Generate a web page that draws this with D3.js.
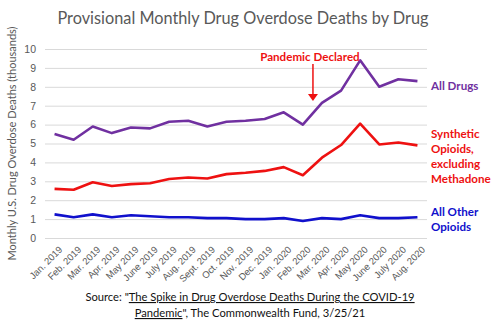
<!DOCTYPE html>
<html>
<head>
<meta charset="utf-8">
<script src="https://cdn.jsdelivr.net/npm/d3@7"></script>
<style>
  body { margin: 0; background: #fff; }
  svg { display: block; font-family: Lato, "Open Sans", sans-serif; }
</style>
</head>
<body>
<div class="container"></div>
<script>
const months = ['Jan. 2019', 'Feb. 2019', 'Mar. 2019', 'Apr. 2019', 'May 2019', 'June 2019',
    'July 2019', 'Aug. 2019', 'Sept. 2019', 'Oct. 2019', 'Nov. 2019', 'Dec. 2019',
    'Jan. 2020', 'Feb. 2020', 'Mar. 2020', 'Apr. 2020', 'May 2020', 'June 2020',
    'July 2020', 'Aug. 2020']

const allDrugs = [5.5, 5.2, 5.9, 5.55, 5.85, 5.8, 6.15, 6.2, 5.9, 6.15,
    6.2, 6.3, 6.65, 6.0, 7.15, 7.8, 9.4, 8.0, 8.4, 8.3]
const syntheticOpioids = [2.6, 2.55, 2.95, 2.75, 2.85, 2.9, 3.12, 3.2, 3.15, 3.38,
    3.45, 3.55, 3.75, 3.32, 4.25, 4.92, 6.05, 4.95, 5.05, 4.9]
const otherOpioids = [1.25, 1.1, 1.25, 1.1, 1.2, 1.15, 1.1, 1.1, 1.05, 1.05,
    1.0, 1.0, 1.05, 0.9, 1.05, 1.0, 1.2, 1.05, 1.05, 1.1]

const yTicks = [0, 1, 2, 3, 4, 5, 6, 7, 8, 9, 10]

const series = [
    { name: ['All Drugs'], values: allDrugs, color: '#7030a0', labelY: 85 },
    { name: ['Synthetic', 'Opioids,', 'excluding', 'Methadone'], values: syntheticOpioids, color: '#ee1111', labelY: 133 },
    { name: ['All Other', 'Opioids'], values: otherOpioids, color: '#1010cc', labelY: 211 },
]

const width = 500, height = 327
const margin = {top: 49, left: 45, right: 73, bottom: 89}

const svg = d3.select('.container')
    .append('svg')
    .attr('width', width)
    .attr('height', height)

const x = d3.scaleBand()
    .domain(months)
    .range([margin.left, width - margin.right])

const y = d3.scaleLinear()
    .domain([0, 10])
    .range([height - margin.bottom, margin.top])

// gridlines + y labels
svg.append('g')
    .attr('transform', `translate(${margin.left},0)`)
    .call(d3.axisLeft(y).tickValues(yTicks).tickSize(-(width - margin.left - margin.right)).tickPadding(9))
    .call(g => g.select('.domain').remove())
    .call(g => g.selectAll('line').attr('stroke', '#d9d9d9'))
    .call(g => g.selectAll('text').attr('fill', '#595959').style('font-size', '10.5px'))

// month labels, rotated
svg.append('g')
    .attr('transform', `translate(0,${height - margin.bottom})`)
    .call(d3.axisBottom(x).tickSize(0).tickPadding(0))
    .call(g => g.select('.domain').remove())
    .call(g => g.selectAll('text')
        .attr('fill', '#595959')
        .style('font-size', '9.5px')
        .attr('text-anchor', 'end')
        .attr('dy', '0.35em')
        .attr('transform', 'translate(6,10) rotate(-45)'))

const line = d3.line()
    .x((d, i) => x(months[i]) + x.bandwidth() / 2)
    .y(d => y(d))

series.forEach(s => {
    svg.append('path')
        .datum(s.values)
        .attr('fill', 'none')
        .attr('stroke', s.color)
        .attr('stroke-width', 2.6)
        .attr('stroke-linejoin', 'round')
        .attr('d', line)

    s.name.forEach((n, i) => {
        svg.append('text')
            .attr('x', 431)
            .attr('y', s.labelY + i * 15 + 4.5)
            .attr('fill', s.color)
            .style('font-size', '11.6px')
            .style('font-weight', 'bold')
            .text(n)
    })
})

// pandemic annotation
const pandemicX = x('Mar. 2020') + x.bandwidth() / 2 - 9
svg.append('text')
    .attr('x', pandemicX - 3)
    .attr('y', 60.5)
    .attr('text-anchor', 'middle')
    .attr('fill', '#ee1111')
    .style('font-size', '11.6px')
    .style('font-weight', 'bold')
    .text('Pandemic Declared')

svg.append('line')
    .attr('x1', pandemicX).attr('x2', pandemicX)
    .attr('y1', 64).attr('y2', 95)
    .attr('stroke', '#ee1111')
    .attr('stroke-width', 1.5)
svg.append('path')
    .attr('d', `M${pandemicX - 5},94 L${pandemicX + 5},94 L${pandemicX},101 Z`)
    .attr('fill', '#ee1111')

// title
svg.append('text')
    .attr('x', 243)
    .attr('y', 24)
    .attr('text-anchor', 'middle')
    .attr('fill', '#595959')
    .style('font-size', '16.3px')
    .text('Provisional Monthly Drug Overdose Deaths by Drug')

// y axis title
svg.append('text')
    .attr('x', 0)
    .attr('y', 0)
    .attr('transform', `translate(16,${y(5)}) rotate(-90)`)
    .attr('text-anchor', 'middle')
    .attr('fill', '#595959')
    .style('font-size', '11px')
    .text('Monthly U.S. Drug Overdose Deaths (thousands)')

// source note
const src = svg.append('g').attr('fill', '#111').style('font-size', '11.2px')
const l1 = src.append('text').attr('x', 250).attr('y', 301).attr('text-anchor', 'middle')
l1.append('tspan').text('Source: "')
l1.append('tspan').attr('text-decoration', 'underline').text('The Spike in Drug Overdose Deaths During the COVID-19')
const l2 = src.append('text').attr('x', 250).attr('y', 317).attr('text-anchor', 'middle')
l2.append('tspan').attr('text-decoration', 'underline').text('Pandemic')
l2.append('tspan').text('", The Commonwealth Fund, 3/25/21')
</script>
</body>
</html>
